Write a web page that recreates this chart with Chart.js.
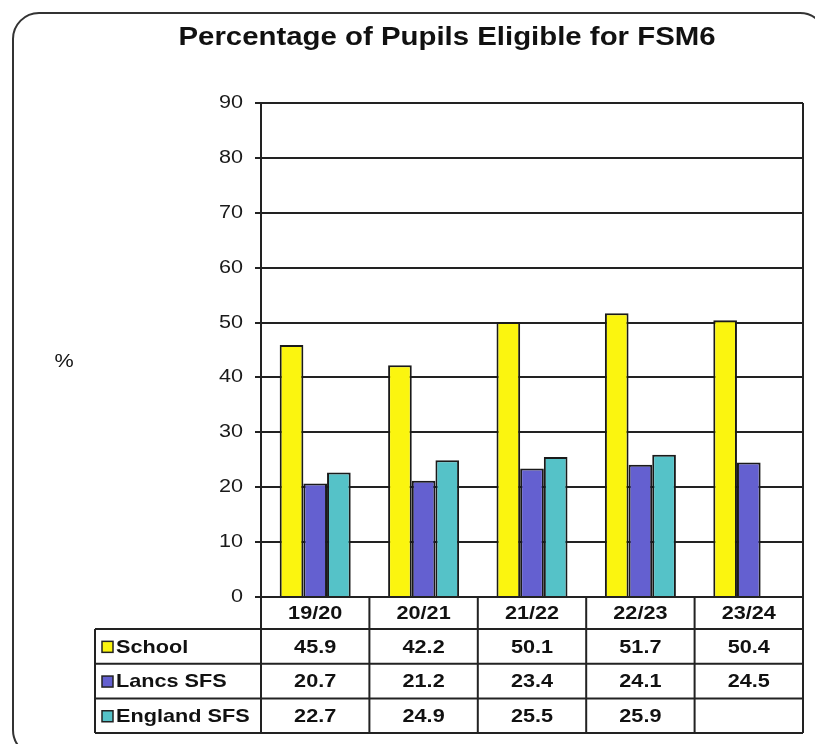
<!DOCTYPE html>
<html>
<head>
<meta charset="utf-8">
<script src="https://cdn.jsdelivr.net/npm/chart.js@4.4.1/dist/chart.umd.min.js"></script>
<style>
  html, body { margin: 0; padding: 0; background: #fff; }
  canvas { display: block; }
</style>
</head>
<body>
<canvas id="c" width="815" height="744"></canvas>
<script>
const chartTitle = "Percentage of Pupils Eligible for FSM6";
const yAxisLabel = "%";
const categories = ["19/20", "20/21", "21/22", "22/23", "23/24"];
const schoolValues = [45.9, 42.2, 50.1, 51.7, 50.4];
const lancsValues = [20.7, 21.2, 23.4, 24.1, 24.5];
const englandValues = [22.7, 24.9, 25.5, 25.9, null];
const seriesNames = ["School", "Lancs SFS", "England SFS"];
const seriesColors = ["#FBF50F", "#6460D0", "#55C2C8"];
const yTicks = [0, 10, 20, 30, 40, 50, 60, 70, 80, 90];

const LINE = "#222";
const FONT = "'Liberation Sans', Arial, sans-serif";
const STRETCH = 1.14;

function stretchedText(ctx, text, x, y, align, sx) {
  ctx.save();
  ctx.translate(x, y);
  ctx.scale(sx, 1);
  ctx.textAlign = align;
  ctx.textBaseline = "middle";
  ctx.fillText(text, 0, 0);
  ctx.restore();
}

const framePlugin = {
  id: "frame",
  beforeDraw(chart) {
    const ctx = chart.ctx;
    ctx.save();
    ctx.fillStyle = "#fff";
    ctx.fillRect(0, 0, chart.width, chart.height);
    // rounded outer frame
    const x = 13, y = 13, w = 813, h = 743, r = 26;
    ctx.beginPath();
    ctx.moveTo(x + r, y);
    ctx.lineTo(x + w - r, y);
    ctx.arcTo(x + w, y, x + w, y + r, r);
    ctx.lineTo(x + w, y + h - r);
    ctx.arcTo(x + w, y + h, x + w - r, y + h, r);
    ctx.lineTo(x + r, y + h);
    ctx.arcTo(x, y + h, x, y + h - r, r);
    ctx.lineTo(x, y + r);
    ctx.arcTo(x, y, x + r, y, r);
    ctx.closePath();
    ctx.lineWidth = 2;
    ctx.strokeStyle = "#333";
    ctx.stroke();
    // title
    ctx.fillStyle = "#111";
    ctx.font = "bold 26px " + FONT;
    stretchedText(ctx, chartTitle, 447, 38, "center", 1.13);
    // y label
    ctx.font = "18px " + FONT;
    stretchedText(ctx, yAxisLabel, 64, 362, "center", 1.2);
    ctx.restore();
  },
  afterDraw(chart) {
    const ctx = chart.ctx;
    const area = chart.chartArea;
    const xs = chart.scales.x;
    const ys = chart.scales.y;
    const n = categories.length;
    const cw = (area.right - area.left) / n;
    const headerBottom = area.bottom + 32;
    const rowH = 34.7;
    const tableLeft = 95;
    const tableBottom = headerBottom + rowH * 3;
    ctx.save();
    // y tick labels
    ctx.fillStyle = "#1a1a1a";
    ctx.font = "18px " + FONT;
    ys.ticks.forEach(t => {
      stretchedText(ctx, String(t.value), area.left - 18, ys.getPixelForValue(t.value), "right", 1.2);
    });
    ctx.strokeStyle = LINE;
    ctx.lineWidth = 2;
    // right border of plot
    ctx.beginPath();
    ctx.moveTo(area.right, area.top);
    ctx.lineTo(area.right, area.bottom);
    ctx.stroke();
    // table lines
    ctx.beginPath();
    for (let i = 0; i <= n; i++) {
      const xx = area.left + i * cw;
      ctx.moveTo(xx, area.bottom);
      ctx.lineTo(xx, tableBottom);
    }
    ctx.moveTo(tableLeft, headerBottom);
    ctx.lineTo(tableLeft, tableBottom);
    for (let r = 0; r <= 3; r++) {
      const yy = headerBottom + r * rowH;
      ctx.moveTo(tableLeft, yy);
      ctx.lineTo(area.right, yy);
    }
    ctx.stroke();
    // header labels
    ctx.fillStyle = "#111";
    ctx.font = "bold 19px " + FONT;
    categories.forEach((c, i) => {
      stretchedText(ctx, c, xs.getPixelForValue(i), (area.bottom + headerBottom) / 2 + 1, "center", STRETCH);
    });
    const rows = [schoolValues, lancsValues, englandValues];
    rows.forEach((vals, r) => {
      const cy = headerBottom + r * rowH + rowH / 2 + 1;
      // legend square
      ctx.fillStyle = seriesColors[r];
      ctx.fillRect(102, cy - 6, 11, 11);
      ctx.lineWidth = 1.5;
      ctx.strokeStyle = "#222";
      ctx.strokeRect(102, cy - 6, 11, 11);
      ctx.fillStyle = "#111";
      stretchedText(ctx, seriesNames[r], 116, cy, "left", STRETCH);
      vals.forEach((v, i) => {
        if (v !== null && v !== undefined) {
          stretchedText(ctx, v.toFixed(1), xs.getPixelForValue(i), cy, "center", STRETCH);
        }
      });
    });
    ctx.restore();
  }
};

const makeDs = (label, data, color) => ({
  label, data,
  backgroundColor: color,
  borderColor: "#1a1a1a",
  borderWidth: 2,
  borderSkipped: "bottom",
  categoryPercentage: 0.655,
  barPercentage: 1.0
});

new Chart(document.getElementById("c"), {
  type: "bar",
  data: {
    labels: categories,
    datasets: [
      makeDs(seriesNames[0], schoolValues, seriesColors[0]),
      makeDs(seriesNames[1], lancsValues, seriesColors[1]),
      makeDs(seriesNames[2], englandValues, seriesColors[2])
    ]
  },
  options: {
    responsive: false,
    devicePixelRatio: 1,
    animation: false,
    layout: { padding: { top: 103, right: 12, bottom: 147, left: 0 } },
    plugins: {
      legend: { display: false },
      title: { display: false },
      tooltip: { enabled: false }
    },
    scales: {
      x: {
        display: false,
        offset: true
      },
      y: {
        min: 0,
        max: 90,
        afterFit(scale) { scale.width = 261; },
        afterBuildTicks(scale) { scale.ticks = yTicks.map(v => ({ value: v })); },
        grid: {
          color: LINE,
          lineWidth: 2,
          tickLength: 6,
          drawTicks: true
        },
        border: { display: true, color: LINE, width: 2 },
        ticks: { display: false }
      }
    }
  },
  plugins: [framePlugin]
});
</script>
</body>
</html>
